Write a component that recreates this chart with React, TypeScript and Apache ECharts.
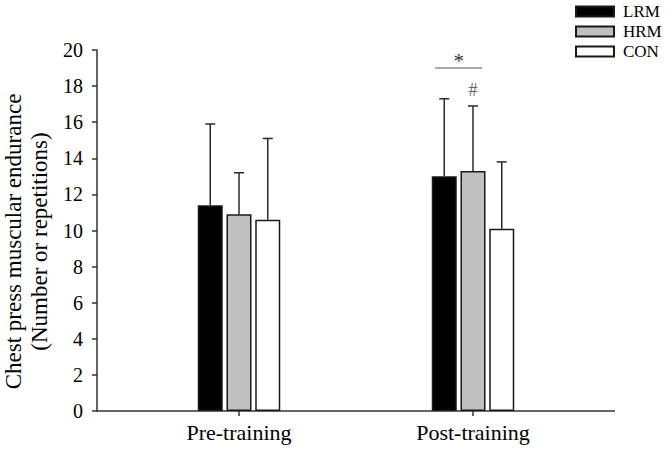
import React, { useEffect, useRef } from "react";
import * as echarts from "echarts";

const categories = ["Pre-training", "Post-training"];
const groupNames = ["LRM", "HRM", "CON"];
const lrmMean = [11.4, 13.0];
const hrmMean = [10.9, 13.3];
const conMean = [10.6, 10.1];
const lrmSD = [4.5, 4.3];
const hrmSD = [2.3, 3.6];
const conSD = [4.5, 3.7];
const yTicks = { min: 0, max: 20, interval: 2 };
// significance markers: [categoryIndex, level]
const starMark = [1, 19.0];
const hashMark = [1, 17.8];

const FONT = "'Liberation Serif', 'Times New Roman', serif";

export default function App() {
  const ref = useRef<HTMLDivElement>(null);
  useEffect(() => {
    const chart = echarts.init(ref.current!, null, { renderer: "svg" });
    const BAR_W = 25;
    const GAP = 0.15;
    const step = BAR_W * (1 + GAP);
    const groups = [
      { name: groupNames[0], mean: lrmMean, sd: lrmSD, color: "#000000" },
      { name: groupNames[1], mean: hrmMean, sd: hrmSD, color: "#c0c0c0" },
      { name: groupNames[2], mean: conMean, sd: conSD, color: "#ffffff" },
    ];
    const barSeries = groups.map((g) => ({
      type: "bar",
      name: g.name,
      data: g.mean,
      barWidth: BAR_W,
      barGap: GAP * 100 + "%",
      itemStyle: { color: g.color, borderColor: "#1a1a1a", borderWidth: 1.5 },
      z: 2,
    }));
    const errSeries = groups.map((g, i) => ({
      type: "custom",
      name: g.name + " SD",
      data: g.mean.map((m, j) => [j, m, m + g.sd[j]]),
      encode: { x: 0, y: [1, 2] },
      z: 3,
      renderItem: (params: any, api: any) => {
        const cat = api.value(0);
        const cx = api.coord([cat, 0])[0] + (i - 1) * step;
        const yBase = api.coord([cat, api.value(1)])[1];
        const yTop = api.coord([cat, api.value(2)])[1];
        const st = { stroke: "#2a2a2a", lineWidth: 1.5 };
        return {
          type: "group",
          children: [
            { type: "line", shape: { x1: cx, y1: yBase, x2: cx, y2: yTop }, style: st },
            { type: "line", shape: { x1: cx - 5, y1: yTop, x2: cx + 5, y2: yTop }, style: st },
          ],
        };
      },
    }));
    const annotSeries = {
      type: "custom",
      name: "annot",
      data: [[starMark[0], starMark[1], hashMark[1]]],
      encode: { x: 0, y: 1 },
      z: 4,
      renderItem: (params: any, api: any) => {
        const cat = api.value(0);
        const center = api.coord([cat, 0])[0];
        const cxPair = center - 0.5 * step;
        const yLine = api.coord([cat, api.value(1)])[1];
        const yHash = api.coord([cat, api.value(2)])[1];
        return {
          type: "group",
          children: [
            {
              type: "line",
              shape: { x1: cxPair - 23.5, y1: yLine, x2: cxPair + 23.5, y2: yLine },
              style: { stroke: "#8c8c8c", lineWidth: 1.5 },
            },
            {
              type: "text",
              x: cxPair,
              y: yLine + 3,
              style: { text: "*", fill: "#333", font: `21px ${FONT}`, align: "center", verticalAlign: "bottom" },
            },
            {
              type: "text",
              x: center,
              y: yHash,
              style: { text: "#", fill: "#666", font: `18px ${FONT}`, align: "center", verticalAlign: "middle" },
            },
          ],
        };
      },
    };
    chart.setOption({
      animation: false,
      textStyle: { fontFamily: FONT, color: "#000" },
      grid: { left: 122, right: 76, top: 50, bottom: 45, containLabel: false, outerBoundsMode: "none" },
      legend: {
        orient: "vertical",
        left: 575,
        top: 3,
        padding: 0,
        itemWidth: 38,
        itemHeight: 10,
        itemGap: 3,
        data: groupNames,
        icon: "rect",
        textStyle: { fontFamily: FONT, fontSize: 17, color: "#000", padding: [0, 0, 0, 4] },
      },
      xAxis: {
        type: "category",
        data: categories,
        axisLine: { show: false },
        axisTick: { show: true, alignWithLabel: true, length: 5, lineStyle: { color: "#333", width: 1.5 } },
        axisLabel: { fontFamily: FONT, fontSize: 22, color: "#000", margin: 10 },
      },
      yAxis: {
        type: "value",
        min: yTicks.min,
        max: yTicks.max,
        interval: yTicks.interval,
        offset: 25,
        splitLine: { show: false },
        axisLine: { show: true, lineStyle: { color: "#333", width: 1.5 } },
        axisTick: { show: true, length: 5, lineStyle: { color: "#333", width: 1.5 } },
        axisLabel: { fontFamily: FONT, fontSize: 20, color: "#000", margin: 14 },
        name: "Chest press muscular endurance\n(Number or repetitions)",
        nameLocation: "middle",
        nameRotate: 90,
        nameGap: 42,
        nameTextStyle: { fontFamily: FONT, fontSize: 23, color: "#000", lineHeight: 26, padding: [0, 22, 0, 0] },
      },
      graphic: [
        {
          type: "line",
          shape: { x1: 97, y1: 411, x2: 615, y2: 411 },
          style: { stroke: "#333", lineWidth: 1.5 },
          z: 1,
        },
      ],
      series: [...barSeries, ...errSeries, annotSeries],
    });
    return () => chart.dispose();
  }, []);
  return (
    <div
      ref={ref}
      style={{ position: "fixed", left: 0, top: 0, width: 666, height: 456, background: "#fff" }}
    />
  );
}
